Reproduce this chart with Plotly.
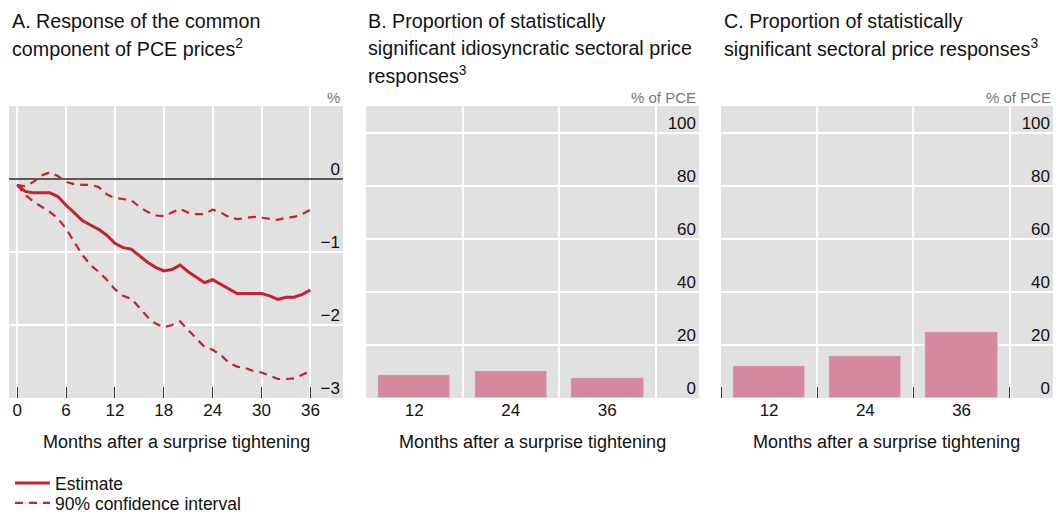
import plotly.graph_objects as go

# ── Data ──────────────────────────────────────────────────────────────────────
months = list(range(0, 37))
estimate = [-0.08, -0.17, -0.19, -0.19, -0.19, -0.24, -0.36, -0.46, -0.57, -0.63,
            -0.69, -0.77, -0.88, -0.94, -0.96, -1.05, -1.14, -1.21, -1.26, -1.24,
            -1.18, -1.27, -1.34, -1.42, -1.38, -1.44, -1.51, -1.57, -1.57, -1.57,
            -1.57, -1.60, -1.65, -1.62, -1.62, -1.58, -1.52]
ci_upper = [-0.08, -0.10, -0.04, 0.05, 0.09, 0.04, -0.04, -0.07, -0.08, -0.08,
            -0.11, -0.21, -0.26, -0.27, -0.29, -0.38, -0.45, -0.50, -0.51, -0.46,
            -0.41, -0.46, -0.48, -0.48, -0.42, -0.46, -0.52, -0.55, -0.54, -0.52,
            -0.53, -0.55, -0.56, -0.53, -0.52, -0.48, -0.42]
ci_lower = [-0.08, -0.22, -0.31, -0.38, -0.45, -0.54, -0.68, -0.86, -1.04, -1.18,
            -1.27, -1.38, -1.51, -1.60, -1.64, -1.76, -1.89, -1.98, -2.03, -2.00,
            -1.95, -2.07, -2.18, -2.30, -2.34, -2.41, -2.52, -2.57, -2.59, -2.63,
            -2.65, -2.70, -2.74, -2.74, -2.73, -2.68, -2.63]

horizons = [12, 24, 36]
idio_share = [8.5, 10, 7.5]
sector_share = [12, 16, 25]

# ── Style ─────────────────────────────────────────────────────────────────────
FONT = "Liberation Sans"
C_RED = "#c8202f"
C_BAR = "#d4899c"
C_BG = "#e1e1e1"
W, H = 1058, 514


def px_x(p):
    return p / W


def px_y(p):
    return 1 - p / H


DOM_Y = [px_y(398), px_y(106)]
DOM_A = [px_x(9), px_x(343)]
DOM_B = [px_x(366), px_x(699)]
DOM_C = [px_x(721), px_x(1053)]

fig = go.Figure()

# Panel A
fig.add_trace(go.Scatter(x=months, y=estimate, mode="lines", name="Estimate",
                         line=dict(color=C_RED, width=3), legend="legend",
                         xaxis="x", yaxis="y"))
fig.add_trace(go.Scatter(x=months, y=ci_upper, mode="lines", name="90% confidence interval",
                         line=dict(color=C_RED, width=2.2, dash="8px,6px"),
                         legend="legend2", legendgroup="ci", xaxis="x", yaxis="y"))
fig.add_trace(go.Scatter(x=months, y=ci_lower, mode="lines", name="90% confidence interval",
                         line=dict(color=C_RED, width=2.2, dash="8px,6px"),
                         legend="legend2", legendgroup="ci", showlegend=False,
                         xaxis="x", yaxis="y"))

# Panels B and C
fig.add_trace(go.Bar(x=horizons, y=idio_share, width=9, marker_color=C_BAR,
                     showlegend=False, xaxis="x2", yaxis="y2"))
fig.add_trace(go.Bar(x=horizons, y=sector_share, width=9, marker_color=C_BAR,
                     showlegend=False, xaxis="x3", yaxis="y3"))

tickfont = dict(family=FONT, size=17, color="#111")
legfont = dict(family=FONT, size=17.5, color="#111")

bar_y = dict(range=[0, 110], tickvals=[0, 20, 40, 60, 80, 100], side="right",
             ticklabelposition="inside", ticklabelshift=-10, ticks="",
             showgrid=True, gridcolor="white", gridwidth=1.5, zeroline=False,
             tickfont=tickfont, domain=DOM_Y)

fig.update_layout(
    width=W, height=H,
    margin=dict(l=0, r=0, t=0, b=0, autoexpand=False),
    paper_bgcolor="white", plot_bgcolor=C_BG,
    font=dict(family=FONT, color="#111"),
    xaxis=dict(domain=DOM_A, range=[-1, 40], tickvals=list(range(0, 37, 6)),
               ticks="inside", ticklen=11, tickcolor="#333", tickwidth=1.2,
               showgrid=True, gridcolor="white", gridwidth=1.5, zeroline=False,
               tickfont=tickfont, anchor="y"),
    yaxis=dict(domain=DOM_Y, range=[-3, 1], tickvals=[-3, -2, -1, 0], side="right",
               ticklabelposition="inside", ticklabelshift=-10, ticks="",
               showgrid=True, gridcolor="white", gridwidth=1.5,
               zeroline=True, zerolinecolor="#5a5a5a", zerolinewidth=2,
               tickfont=tickfont, anchor="x"),
    xaxis2=dict(domain=DOM_B, range=[6, 47.4], tickvals=horizons, ticks="",
                showgrid=False, zeroline=False, tickfont=tickfont, anchor="y2",
                minor=dict(tick0=6, dtick=12, showgrid=True, gridcolor="white",
                           gridwidth=1.5, ticks="")),
    yaxis2=dict(bar_y, anchor="x2"),
    xaxis3=dict(domain=DOM_C, range=[6, 47.4], tickvals=horizons, ticks="",
                showgrid=False, zeroline=False, tickfont=tickfont, anchor="y3",
                minor=dict(tick0=6, dtick=12, showgrid=True, gridcolor="white",
                           gridwidth=1.5, ticks="inside", ticklen=11,
                           tickcolor="#333", tickwidth=1.2)),
    yaxis3=dict(bar_y, anchor="x3"),
    bargap=0,
    legend=dict(x=px_x(10), y=px_y(483), xanchor="left", yanchor="middle",
                font=legfont, bgcolor="rgba(0,0,0,0)", itemwidth=35,
                borderwidth=0),
    legend2=dict(x=px_x(10), y=px_y(503), xanchor="left", yanchor="middle",
                 font=legfont, bgcolor="rgba(0,0,0,0)", itemwidth=35,
                 borderwidth=0),
)

# Titles, units and axis titles
TITLE_SIZE = 19.7
titles = [
    (10, ["A. Response of the common", "component of PCE prices<sup>2</sup>"]),
    (366, ["B. Proportion of statistically", "significant idiosyncratic sectoral price",
           "responses<sup>3</sup>"]),
    (722, ["C. Proportion of statistically", "significant sectoral price responses<sup>3</sup>"]),
]
for x0, lines in titles:
    for i, txt in enumerate(lines):
        fig.add_annotation(text=txt, x=px_x(x0), y=px_y(21 + 27 * i), xref="paper",
                           yref="paper", xanchor="left", yanchor="middle",
                           showarrow=False, font=dict(family=FONT, size=TITLE_SIZE,
                                                      color="#111"))

for x_right, unit in [(342, "%"), (698, "% of PCE"), (1053, "% of PCE")]:
    fig.add_annotation(text=unit, x=px_x(x_right), y=px_y(97), xref="paper", yref="paper",
                       xanchor="right", yanchor="middle", showarrow=False,
                       font=dict(family=FONT, size=15, color="#777"))

for dom in (DOM_A, DOM_B, DOM_C):
    fig.add_annotation(text="Months after a surprise tightening",
                       x=(dom[0] + dom[1]) / 2, y=px_y(442), xref="paper", yref="paper",
                       xanchor="center", yanchor="middle", showarrow=False,
                       font=dict(family=FONT, size=18, color="#111"))

# pin the figure to the window origin so the page is exactly one screen
pin_js = (
    "document.body.style.margin='0';"
    "document.body.style.overflow='hidden';"
    "var gd=document.getElementById('{plot_id}');"
    "gd.style.position='fixed';gd.style.top='0';gd.style.left='0';"
)
fig.write_html("out.html", config={"displayModeBar": False}, post_script=pin_js)
